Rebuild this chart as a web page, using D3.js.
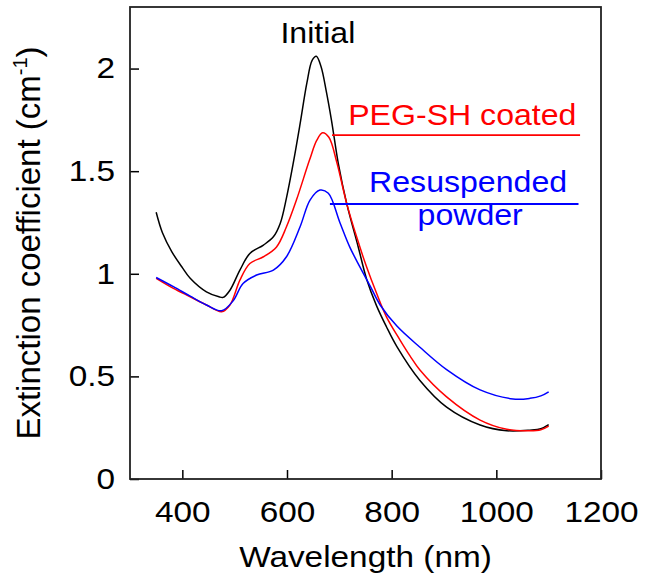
<!DOCTYPE html>
<html lang="en">
<head>
    <meta charset="UTF-8">
    <title>Extinction spectra</title>
    <script src="https://d3js.org/d3.v7.min.js"></script>
    <style>
        body { margin: 0; background: #fff; }
        text { font-family: "Liberation Sans", Arial, sans-serif; }
    </style>
</head>
<body>
<svg width="645" height="580"></svg>
<script>

    // spectra: [wavelength nm, extinction cm^-1]
    const initial = [
        [350,1.30],[362,1.20],[380,1.107],[400,1.03],[415,0.978],[446,0.912],[470,0.888],
        [478,0.885],[491,0.92],[510,1.018],[529,1.099],[555,1.14],[574,1.18],[587,1.245],
        [599,1.37],[612,1.54],[625,1.73],[638,1.93],[648,2.04],[656,2.06],[665,2.01],
        [675,1.89],[685,1.748],[698,1.538],[714,1.343],[736,1.132],[752,0.975],[771,0.845],
        [790,0.742],[810,0.645],[854,0.48],[905,0.35],[969,0.263],[1020,0.235],[1064,0.238],
        [1085,0.245],[1100,0.265]
    ];
    const pegCoated = [
        [350,0.978],[383,0.929],[415,0.888],[446,0.848],[475,0.815],[491,0.848],[510,0.969],
        [529,1.05],[555,1.083],[580,1.131],[599,1.229],[618,1.359],[643,1.554],[657,1.651],
        [668,1.687],[680,1.665],[695,1.545],[714,1.343],[733,1.18],[752,1.034],[771,0.906],
        [790,0.79],[816,0.677],[835,0.60],[854,0.531],[905,0.40],[969,0.287],[1020,0.242],
        [1064,0.235],[1085,0.24],[1100,0.258]
    ];
    const resuspended = [
        [350,0.982],[383,0.937],[415,0.891],[446,0.848],[475,0.82],[497,0.868],[516,0.953],
        [542,0.994],[574,1.018],[599,1.083],[625,1.229],[644,1.359],[663,1.408],[679,1.392],
        [701,1.25],[720,1.13],[739,1.035],[759,0.94],[778,0.848],[810,0.745],[854,0.642],
        [905,0.533],[969,0.434],[1032,0.39],[1064,0.393],[1085,0.405],[1100,0.425]
    ];

    const xTicks = [400, 600, 800, 1000, 1200];
    const yTicks = [0, 0.5, 1, 1.5, 2];

    const series = [
        {name: "Initial",       values: initial,     color: "#000000"},
        {name: "PEG-SH coated", values: pegCoated,   color: "#ff0000"},
        {name: "Resuspended",   values: resuspended, color: "#0000ff"}
    ];

    const plotL = 130, plotR = 601, plotT = 7, plotB = 479;
    const sx = 1.15; // labels in the figure are a bit wider than tall

    const x = d3.scaleLinear().domain([300, 1200]).range([plotL, plotR]);
    const y = d3.scaleLinear().domain([0, 2.3]).range([plotB, plotT]);

    const svg = d3.select("svg");

    const line = d3.line()
        .x(d => x(d[0]))
        .y(d => y(d[1]))
        .curve(d3.curveCatmullRom.alpha(0.5));

    svg.append("g")
        .selectAll("path")
        .data(series)
        .enter()
        .append("path")
        .attr("d", d => line(d.values))
        .attr("fill", "none")
        .attr("stroke", d => d.color)
        .attr("stroke-width", 1.5);

    // axes with inward ticks
    const xAxis = svg.append("g")
        .attr("transform", `translate(0,${plotB})`)
        .call(d3.axisBottom(x).tickValues(xTicks).tickSize(-9).tickPadding(22)
            .tickFormat(d3.format("d")));
    xAxis.selectAll("text")
        .attr("font-size", 29)
        .attr("fill", "#000")
        .attr("transform", `scale(${sx},1)`);

    const yAxis = svg.append("g")
        .attr("transform", `translate(${plotL},0)`)
        .call(d3.axisLeft(y).tickValues(yTicks).tickSize(-9).tickPadding(15)
            .tickFormat(d => String(d)));
    yAxis.selectAll("text")
        .attr("font-size", 29)
        .attr("fill", "#000")
        .attr("x", -15 / sx)
        .attr("transform", `scale(${sx},1)`);

    svg.selectAll(".domain").remove();
    svg.selectAll(".tick line").attr("stroke", "#000").attr("stroke-width", 1.5);

    svg.append("rect")
        .attr("x", plotL).attr("y", plotT)
        .attr("width", plotR - plotL).attr("height", plotB - plotT)
        .attr("fill", "none")
        .attr("stroke", "#222")
        .attr("stroke-width", 1.8);

    // axis titles
    svg.append("text")
        .attr("transform", `translate(${(plotL + plotR) / 2},567) scale(${sx},1)`)
        .attr("text-anchor", "middle")
        .attr("font-size", 29)
        .text("Wavelength (nm)");

    const yTitle = svg.append("text")
        .attr("transform", `translate(40,${(plotT + plotB) / 2}) rotate(-90)`)
        .attr("text-anchor", "middle")
        .attr("font-size", 33)
        .text("Extinction coefficient (cm");
    yTitle.append("tspan").attr("font-size", 20).attr("dy", -13).text("-1");
    yTitle.append("tspan").attr("dy", 13).text(")");

    // curve labels
    const labels = [
        {text: "Initial",       wl: 659, v: 2.124, color: "#000000"},
        {text: "PEG-SH coated", wl: 935, v: 1.724, color: "#ff0000"},
        {text: "Resuspended",   wl: 946, v: 1.40,  color: "#0000ff"},
        {text: "powder",        wl: 950, v: 1.237, color: "#0000ff"}
    ];
    svg.append("g")
        .selectAll("text")
        .data(labels)
        .enter()
        .append("text")
        .attr("transform", d => `translate(${x(d.wl)},${y(d.v)}) scale(1.07,1)`)
        .attr("text-anchor", "middle")
        .attr("font-size", 30)
        .attr("fill", d => d.color)
        .text(d => d.text);

    const leaders = [
        {from: 686, to: 1160, v: 1.676, color: "#ff0000"},
        {from: 682, to: 1157, v: 1.34,  color: "#0000ff"}
    ];
    svg.append("g")
        .selectAll("line")
        .data(leaders)
        .enter()
        .append("line")
        .attr("x1", d => x(d.from))
        .attr("x2", d => x(d.to))
        .attr("y1", d => y(d.v))
        .attr("y2", d => y(d.v))
        .attr("stroke", d => d.color)
        .attr("stroke-width", 1.8);
</script>
</body>
</html>
